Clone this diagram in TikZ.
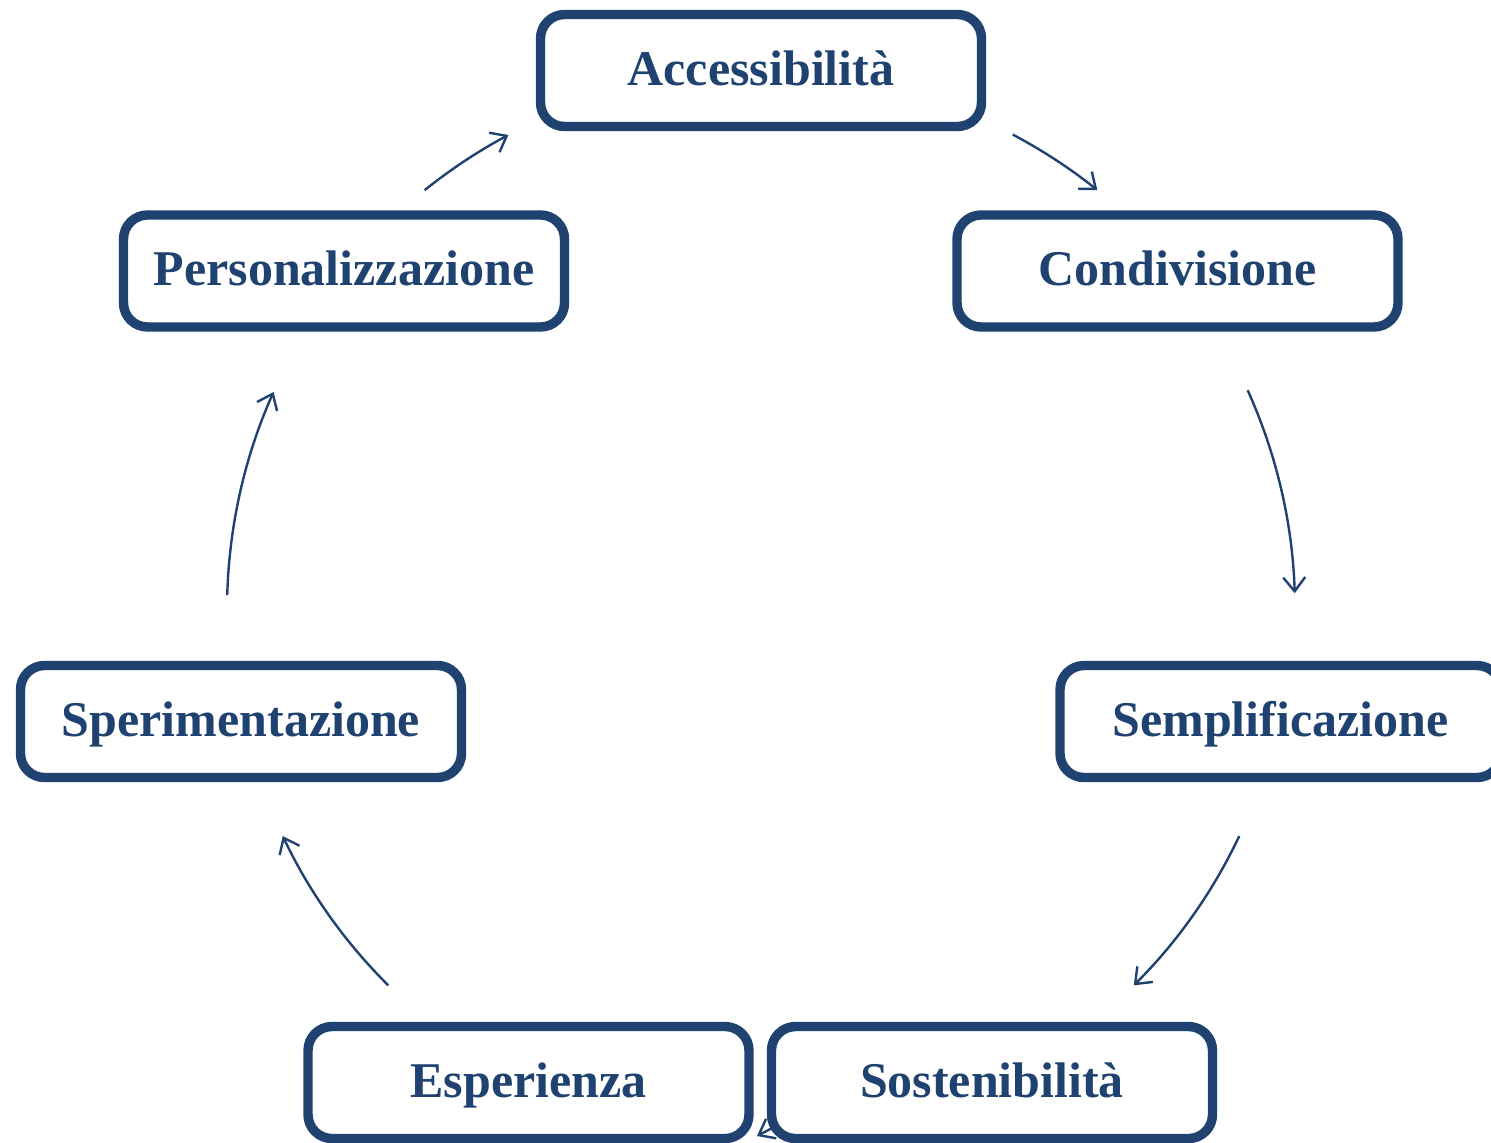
\documentclass[tikz,border=0pt]{standalone}
\usepackage{fontspec}
\setmainfont{Liberation Serif}
\usetikzlibrary{arrows.meta}
\definecolor{navy}{HTML}{1F4270}
\begin{document}
\begin{tikzpicture}[x=0.5pt,y=0.5pt,
  box/.style={draw=navy, line width=4.7pt, rounded corners=12pt, fill=white,
    minimum width=220.5pt, minimum height=56pt, inner sep=0pt,
    text height=20pt, text depth=5.5pt,
    text=navy, font=\fontsize{25}{30}\selectfont\bfseries},
  arr/.style={draw=navy, line width=1.2pt, -{Straight Barb[length=7pt,width=11pt,line width=1.2pt]}}]
\clip (0,0) rectangle (1491,-1142);
\useasboundingbox (0,0) rectangle (1491,-1142);
\coordinate (C) at (761,-610);
% connectors
\draw[arr] ([shift={(128.7:269pt)}]C) arc[start angle=128.7, end angle=118, radius=269pt];
\draw[arr] ([shift={(62.1:269pt)}]C) arc[start angle=62.1, end angle=51.3, radius=269pt];
\draw[arr] ([shift={(24.3:267pt)}]C) arc[start angle=24.3, end angle=1.8, radius=267pt];
\draw[arr] ([shift={(-25.3:264.5pt)}]C) arc[start angle=-25.3, end angle=-45.2, radius=264.5pt];
\coordinate (s0) at (776,-1126);
\coordinate (s1) at (757,-1136);
\draw[arr] (s0) -- (s1);
\draw[arr] ([shift={(-134.8:264.5pt)}]C) arc[start angle=-134.8, end angle=-154.7, radius=264.5pt];
\draw[arr] ([shift={(178.4:267pt)}]C) arc[start angle=178.4, end angle=155.9, radius=267pt];
% boxes
\node[box] (acc) at (761,-70.5) {Accessibilità};
\node[box] (cond) at (1177.5,-271) {Condivisione};
\node[box] (pers) at (344,-271) {Personalizzazione};
\node[box] (sper) at (241,-721.5) {Sperimentazione};
\node[box] (sempl) at (1280.5,-721.5) {Semplificazione};
\node[box] (esp) at (528.5,-1082.5) {Esperienza};
\node[box] (sost) at (992,-1082.5) {Sostenibilità};
\end{tikzpicture}
\end{document}
